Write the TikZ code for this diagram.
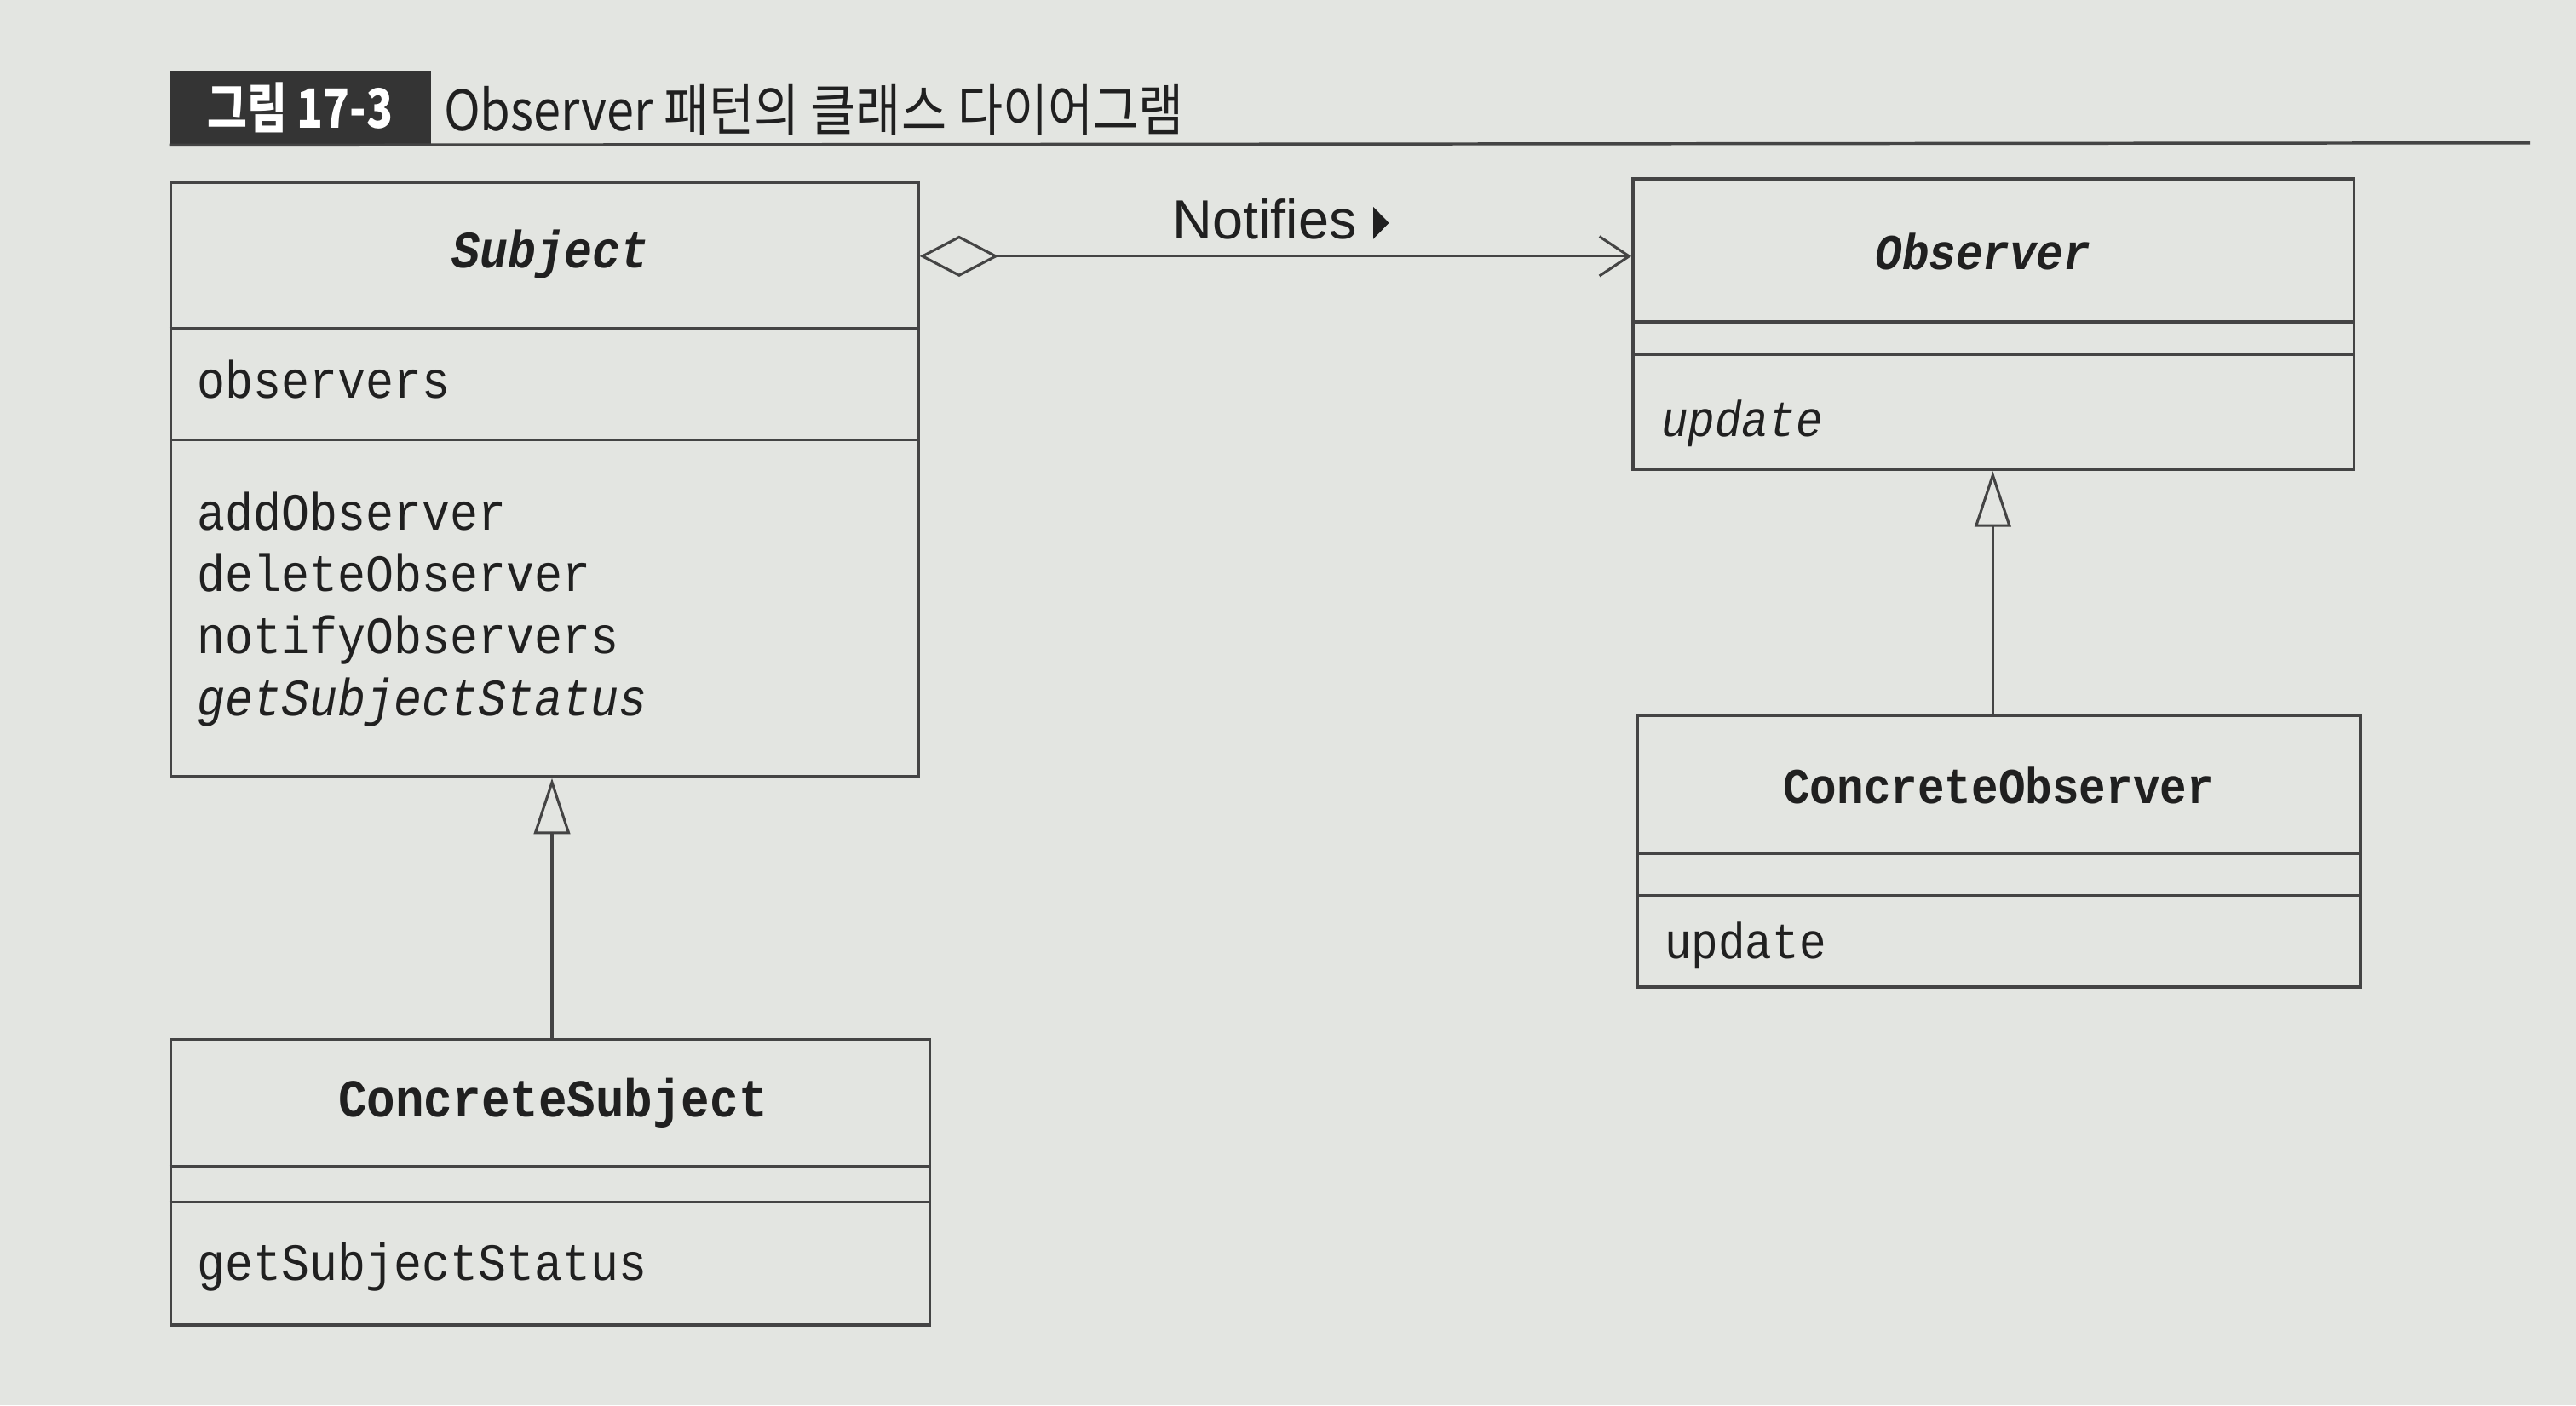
\documentclass[tikz,border=0pt]{standalone}
\usepackage{fontspec}
\setsansfont{Liberation Sans}
\newfontfamily\codefont{Liberation Mono}
\newfontfamily\krfont{Noto Sans CJK KR}
\usetikzlibrary{arrows.meta}
\definecolor{pagebg}{RGB}{227,229,225}
\definecolor{linec}{RGB}{68,68,68}
\definecolor{textc}{RGB}{32,32,32}
\definecolor{tagbg}{RGB}{52,52,52}
\tikzset{
  classbox/.style={draw=linec, line width=1.8, fill=pagebg, inner sep=0pt, anchor=north west},
  divider/.style={draw=linec, line width=1.6},
  member/.style={font=\fontsize{28.5}{34}\selectfont\codefont, text=textc, inner sep=0pt, anchor=base west, yscale=1.12},
  rmember/.style={member, font=\fontsize{27.3}{34}\selectfont\codefont},
  cname/.style={member, anchor=base, font=\fontsize{28.5}{34}\selectfont\codefont\bfseries},
  aname/.style={member, anchor=base, font=\fontsize{28.5}{34}\selectfont\codefont\bfseries\itshape},
  aggline/.style={draw=linec, line width=1.6, {Diamond[open, length=48pt, width=25pt, line width=1.6pt]}-{Straight Barb[length=18pt, width=24pt, line width=1.6pt]}},
  inherit/.style={draw=linec, line width=1.6, -{Triangle[open, length=34pt, width=22pt, line width=1.6pt, fill=pagebg]}},
}
\begin{document}
\begin{tikzpicture}[x=1pt, y=-1pt]
\fill[pagebg] (0,0) rectangle (1568,855.6);
\useasboundingbox (0,0) rectangle (1568,855.6);

% title
\node[fill=tagbg, minimum width=159pt, minimum height=45pt, inner sep=0pt, anchor=north west] (tag) at (103,43) {};
\node[text=white, font=\fontsize{33}{36}\selectfont\krfont\bfseries, xscale=0.8, inner sep=0pt] (tagtext) at (tag.center) {그림 17-3};
\node[text=textc, font=\fontsize{34}{38}\selectfont\krfont, xscale=0.88, inner sep=0pt, anchor=west] (title) at (270,67) {Observer 패턴의 클래스 다이어그램};
\coordinate (ruleend) at (1540,87);
\draw[draw=linec, line width=1.8] (tag.south west) -- (ruleend);

% Subject
\node[classbox, minimum width=455pt, minimum height=362pt] (subject) at (103,110) {};
\draw[divider] (subject.west |- 0,200) -- (subject.east |- 0,200);
\draw[divider] (subject.west |- 0,268) -- (subject.east |- 0,268);
\node[aname] (subjname) at (335,163) {Subject};
\node[member] (subjattr) at (120,242.5) {observers};
\node[member] (op1) at (120,322.8) {addObserver};
\node[member] (op2) at (120,360) {deleteObserver};
\node[member] (op3) at (120,398) {notifyObservers};
\node[member, font=\fontsize{28.5}{34}\selectfont\codefont\itshape] (op4) at (120,436) {getSubjectStatus};

% Observer
\node[classbox, minimum width=439pt, minimum height=177pt] (observer) at (993,108) {};
\draw[divider] (observer.west |- 0,196) -- (observer.east |- 0,196);
\draw[divider] (observer.west |- 0,216) -- (observer.east |- 0,216);
\node[aname, font=\fontsize{27.3}{34}\selectfont\codefont\bfseries\itshape] (obsname) at (1207,164) {Observer};
\node[rmember, font=\fontsize{27.3}{34}\selectfont\codefont\itshape] (obsop) at (1011,265.5) {update};

% ConcreteObserver
\node[classbox, minimum width=440pt, minimum height=165pt] (cobserver) at (996,435) {};
\draw[divider] (cobserver.west |- 0,520) -- (cobserver.east |- 0,520);
\draw[divider] (cobserver.west |- 0,545) -- (cobserver.east |- 0,545);
\node[cname, font=\fontsize{27.3}{34}\selectfont\codefont\bfseries] (cobsname) at (1216.5,489) {ConcreteObserver};
\node[rmember] (cobsop) at (1013,583.5) {update};

% ConcreteSubject
\node[classbox, minimum width=462pt, minimum height=174pt] (csubject) at (103,632) {};
\draw[divider] (csubject.west |- 0,710) -- (csubject.east |- 0,710);
\draw[divider] (csubject.west |- 0,732) -- (csubject.east |- 0,732);
\node[cname, font=\fontsize{29}{34}\selectfont\codefont\bfseries] (csubjname) at (336.5,680) {ConcreteSubject};
\node[member] (csubjop) at (120,779.5) {getSubjectStatus};

% connectors
\draw[aggline] (subject.east |- 0,156) -- (observer.west |- 0,156);
\node[text=textc, font=\fontsize{33.6}{38}\selectfont\sffamily, inner sep=0pt, anchor=base west] (notif) at (713.5,145.5) {Notifies};
\fill[textc] ([xshift=10pt]notif.base east) -- ++(0,-19.5) -- ++(9.5,9.75) -- cycle;
\draw[inherit] (csubject.north -| 336,0) -- (subject.south -| 336,0);
\draw[inherit] (cobserver.north -| 1213,0) -- (observer.south -| 1213,0);
\end{tikzpicture}
\end{document}
